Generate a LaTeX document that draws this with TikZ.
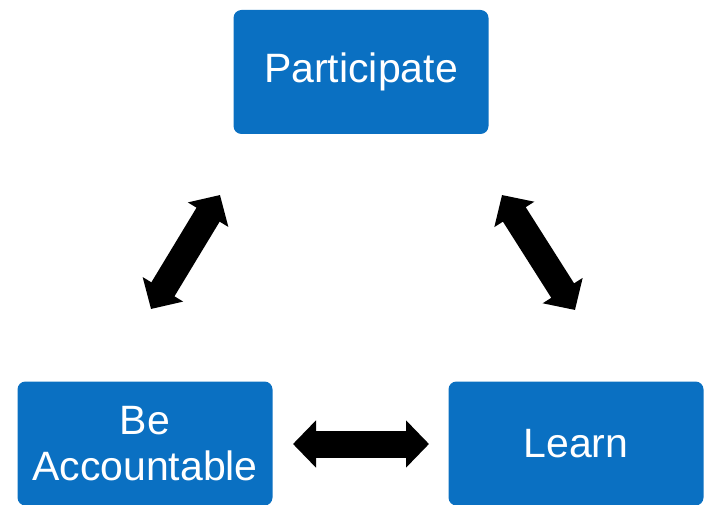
\documentclass[tikz,border=0pt]{standalone}
\usepackage{fontspec}
\setmainfont{Liberation Sans}
\usetikzlibrary{arrows.meta}
\definecolor{boxblue}{HTML}{0A70C2}
\tikzset{
  stagebox/.style={fill=boxblue, draw=none, rounded corners=8pt,
    minimum width=255pt, minimum height=124pt, inner sep=0pt,
    text=white, font=\fontsize{41}{46}\selectfont, align=center},
  bigarrow/.style={line width=27pt, black,
    {Triangle[length=23pt,width=46pt]}-{Triangle[length=23pt,width=46pt]}}
}
\begin{document}
\begin{tikzpicture}[x=1pt,y=-1pt]
  \useasboundingbox (0,0) rectangle (710,505);
  % the three stages
  \node[stagebox] (part) at (361,72) {Participate};
  \node[stagebox] (acc) at (145,443.5) {Be\\Accountable};
  \node[stagebox] (learn) at (576,443.5) {Learn};
  % arrow end points just off each box
  \coordinate (pA) at (220,195);
  \coordinate (aP) at (151,309);
  \coordinate (pL) at (502,195);
  \coordinate (lP) at (575,310);
  \coordinate (aL) at (293,444);
  \coordinate (lA) at (429,444);
  % two-way links
  \draw[bigarrow] (aP) -- (pA);
  \draw[bigarrow] (pL) -- (lP);
  \draw[bigarrow] (aL) -- (lA);
\end{tikzpicture}
\end{document}
